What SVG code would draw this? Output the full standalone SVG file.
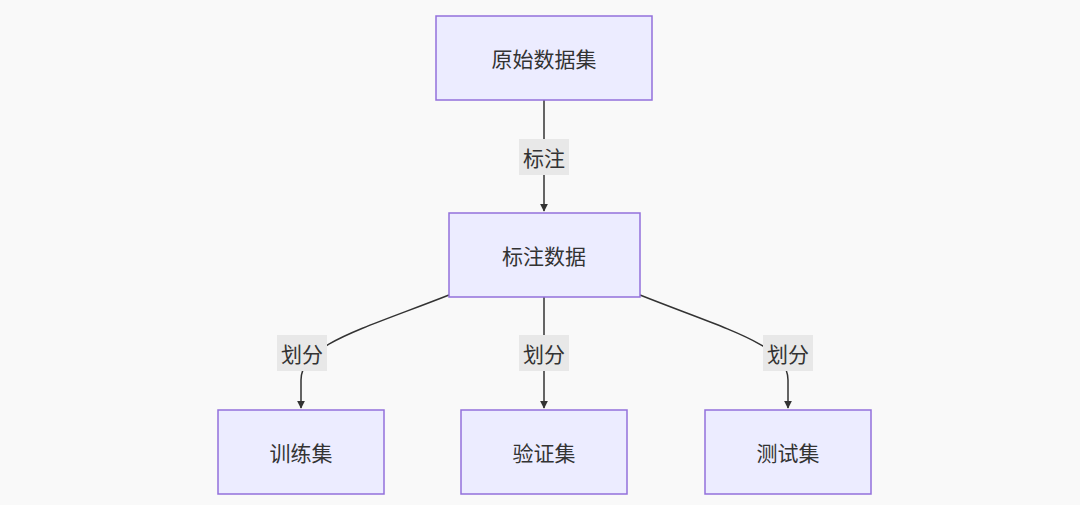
<svg xmlns="http://www.w3.org/2000/svg" width="1080" height="505" viewBox="0 0 1080 505">
<style>
.n{fill:#ECECFF;stroke:#9370DB;stroke-width:1.5}
.t{font-family:"Noto Sans CJK SC",sans-serif;font-size:21px;fill:#333;text-anchor:middle;dominant-baseline:central}
.e{fill:none;stroke:#333;stroke-width:1.5}
.lb{fill:#e8e8e8}
</style>
<defs><marker id="a" viewBox="0 0 10 10" refX="9" refY="5" markerWidth="8" markerHeight="8" markerUnits="userSpaceOnUse" orient="auto"><path d="M0,0L10,5L0,10z" fill="#333"/></marker></defs>
<rect width="1080" height="505" fill="#f9f9f9"/>
<g id="edges">
<path class="e" d="M544,100 L544,211" marker-end="url(#a)"/>
<path class="e" d="M449,295 C360,330 301,345 301,380 L301,408" marker-end="url(#a)"/>
<path class="e" d="M544,297 L544,408" marker-end="url(#a)"/>
<path class="e" d="M640,295 C728,330 788,345 788,380 L788,408" marker-end="url(#a)"/>
<rect class="lb" x="519" y="139" width="50" height="36"/><text class="t" x="544" y="157">标注</text>
<rect class="lb" x="277" y="335" width="50" height="36"/><text class="t" x="302" y="353">划分</text>
<rect class="lb" x="519" y="335" width="50" height="36"/><text class="t" x="544" y="353">划分</text>
<rect class="lb" x="763" y="335" width="50" height="36"/><text class="t" x="788" y="353">划分</text>
</g>
<g id="n1"><rect class="n" x="436" y="16" width="216" height="84"/><text class="t" x="544" y="58">原始数据集</text></g>
<g id="n2"><rect class="n" x="449" y="213" width="191" height="84"/><text class="t" x="544" y="255">标注数据</text></g>
<g id="n3"><rect class="n" x="218" y="410" width="166" height="84"/><text class="t" x="301" y="452">训练集</text></g>
<g id="n4"><rect class="n" x="461" y="410" width="166" height="84"/><text class="t" x="544" y="452">验证集</text></g>
<g id="n5"><rect class="n" x="705" y="410" width="166" height="84"/><text class="t" x="788" y="452">测试集</text></g>
</svg>
